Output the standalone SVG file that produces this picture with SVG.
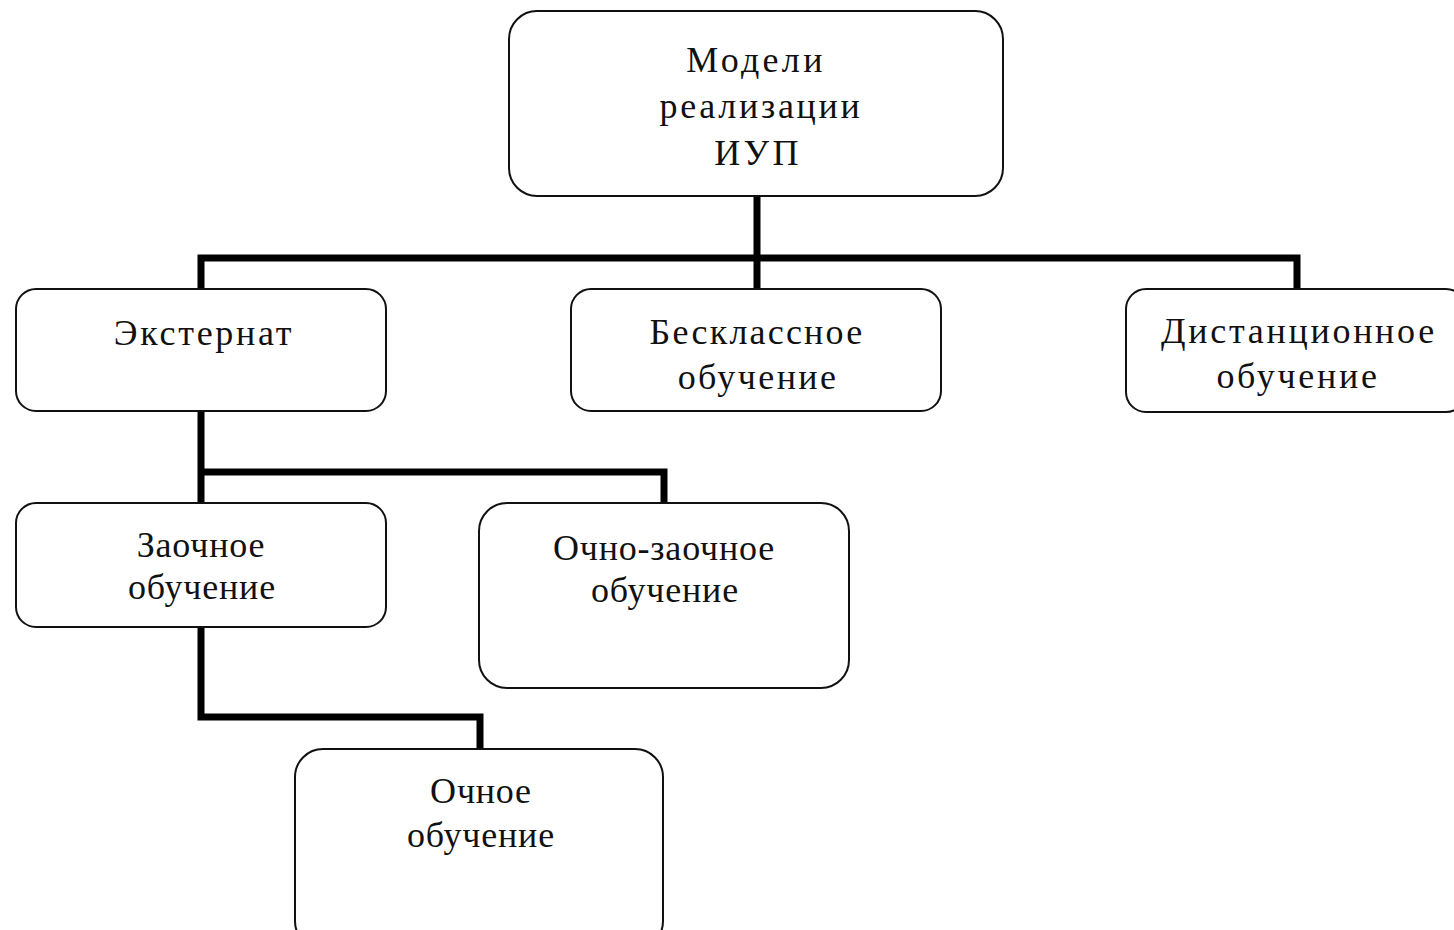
<svg xmlns="http://www.w3.org/2000/svg" width="1454" height="930" viewBox="0 0 1454 930">
<style>
.box{fill:#fff;stroke:#111;stroke-width:2}
.lbl{font-family:"Liberation Serif","Times New Roman",serif;font-size:36px;fill:#111;text-anchor:middle}
.wide{letter-spacing:2.7px}
.narrow{letter-spacing:0.8px}
.conn{fill:none;stroke:#000;stroke-width:7;stroke-linejoin:miter;stroke-linecap:butt}
</style>
<rect width="1454" height="930" fill="#fff"/>
<g id="connectors">
<path class="conn" d="M757 196 V289"/>
<path class="conn" d="M201 289 V258 H1297 V289"/>
<path class="conn" d="M201 411 V503"/>
<path class="conn" d="M201 472 H664 V503"/>
<path class="conn" d="M201 627 V717 H480 V749"/>
</g>
<g id="n-root">
<rect class="box" x="509" y="11" width="494" height="185" rx="28"/>
<text class="lbl wide" x="756" y="72" style="letter-spacing:3.3px">Модели</text>
<text class="lbl wide" x="761" y="118">реализации</text>
<text class="lbl wide" x="758" y="165" style="letter-spacing:3.3px">ИУП</text>
</g>
<g id="n-ext">
<rect class="box" x="16" y="289" width="370" height="122" rx="20"/>
<text class="lbl wide" x="204" y="345">Экстернат</text>
</g>
<g id="n-besk">
<rect class="box" x="571" y="289" width="370" height="122" rx="20"/>
<text class="lbl wide" x="757" y="344" style="letter-spacing:2.2px">Бесклассное</text>
<text class="lbl wide" x="758" y="389" style="letter-spacing:2.4px">обучение</text>
</g>
<g id="n-dist">
<rect class="box" x="1126" y="289" width="340" height="123" rx="20"/>
<text class="lbl wide" x="1299" y="343">Дистанционное</text>
<text class="lbl wide" x="1298" y="388">обучение</text>
</g>
<g id="n-zaoch">
<rect class="box" x="16" y="503" width="370" height="124" rx="20"/>
<text class="lbl narrow" x="201" y="557">Заочное</text>
<text class="lbl narrow" x="202" y="599">обучение</text>
</g>
<g id="n-ochzaoch">
<rect class="box" x="479" y="503" width="370" height="185" rx="28"/>
<text class="lbl narrow" x="664" y="560">Очно-заочное</text>
<text class="lbl narrow" x="665" y="602">обучение</text>
</g>
<g id="n-och">
<rect class="box" x="295" y="749" width="368" height="200" rx="28"/>
<text class="lbl narrow" x="481" y="803">Очное</text>
<text class="lbl narrow" x="481" y="847">обучение</text>
</g>
</svg>
